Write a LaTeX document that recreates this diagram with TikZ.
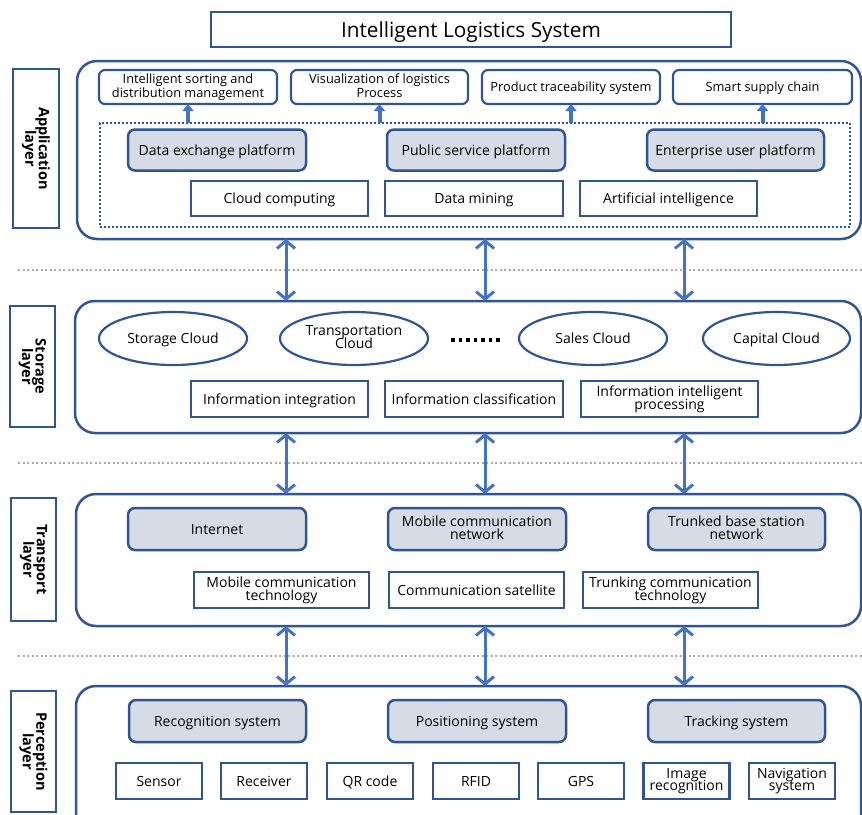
\documentclass[tikz,border=0pt]{standalone}
\usepackage{fontspec}
\setmainfont{Open Sans}
\usetikzlibrary{arrows.meta,shapes.geometric}
\definecolor{bord}{HTML}{2F5597}
\definecolor{arrowc}{HTML}{4472C4}
\definecolor{grayfill}{HTML}{D6DCE5}
\definecolor{sepc}{HTML}{ABABAB}
\newcommand{\fs}[2]{\fontsize{#1}{#2}\selectfont\lineskiplimit=-30pt\relax}
\newcommand{\mystrut}{\rule[-0.25em]{0pt}{1.25em}}
\begin{document}
\begin{tikzpicture}[x=1pt,y=-1pt,
  every node/.style={inner sep=0pt, outer sep=0pt, align=center},
  txt/.style={execute at begin node=\mystrut, execute at end node=\mystrut},
  titlebox/.style={txt, draw=bord, line width=2.2, minimum width=520, minimum height=35, font=\fs{20.8}{22}},
  layerbox/.style={draw=bord, line width=2.5, rotate=-90, font=\bfseries\fs{14.5}{13.5}},
  cont/.style={draw=bord, line width=2.5, rounded corners=20, anchor=north west},
  topbox/.style={txt, draw=bord, line width=2.2, rounded corners=6, minimum height=34, font=\fs{12.8}{13.8}},
  gbox/.style={txt, draw=bord, fill=grayfill, line width=2.5, rounded corners=7, minimum width=178, minimum height=41, font=\fs{14}{13}},
  tbox/.style={txt, draw=bord, line width=2.2, minimum width=177, minimum height=35, font=\fs{14}{13}},
  sbox/.style={txt, draw=bord, line width=2.2, minimum width=86, minimum height=36, font=\fs{14}{13}},
  ell/.style={txt, ellipse, draw=bord, line width=2.2, minimum width=148, minimum height=53, font=\fs{14}{13}},
  dotbox/.style={draw=bord, line width=2, dash pattern=on 2pt off 2pt},
  sepline/.style={draw=sepc, line width=2, dash pattern=on 2pt off 2.5pt},
  biarrow/.style={draw=arrowc, line width=3, {Straight Barb[length=7.5pt,width=18pt]}-{Straight Barb[length=7.5pt,width=18pt]}},
  uparrow/.style={draw=arrowc, line width=4, -{Triangle[length=7pt,width=11pt]}},
  dotsline/.style={draw=black, line width=3.5, dash pattern=on 3.5pt off 4pt}
]
\useasboundingbox (0,0) rectangle (862,814);
\clip (0,0) rectangle (862,814);

% title
\node[titlebox] (title) at (471,29.5) {Intelligent Logistics System};

% layer labels
\node[layerbox, minimum width=159, minimum height=46] (Lapp) at (36,148.5) {Application\\layer};
\node[layerbox, minimum width=121, minimum height=45] (Lsto) at (32.5,366.5) {Storage\\layer};
\node[layerbox, minimum width=123, minimum height=45] (Ltra) at (33.5,559.5) {Transport\\layer};
\node[layerbox, minimum width=121, minimum height=45] (Lper) at (33.5,751.5) {Perception\\layer};

% containers
\node[cont, minimum width=784, minimum height=178] (Capp) at (77,61) {};
\node[cont, minimum width=786, minimum height=132] (Csto) at (75,301) {};
\node[cont, minimum width=785, minimum height=132] (Ctra) at (76,494) {};
\node[cont, minimum width=785, minimum height=160] (Cper) at (76,686) {};

% separators
\coordinate (s1a) at (18,270); \coordinate (s1b) at (862,270);
\coordinate (s2a) at (18,463); \coordinate (s2b) at (862,463);
\coordinate (s3a) at (18,656); \coordinate (s3b) at (862,656);
\draw[sepline] (s1a) -- (s1b);
\draw[sepline] (s2a) -- (s2b);
\draw[sepline] (s3a) -- (s3b);

% application layer
\node[topbox, minimum width=178] (sort) at (188,87) {Intelligent sorting and\\distribution management};
\node[topbox, minimum width=177] (vis) at (379.5,87) {Visualization of logistics\\Process};
\node[topbox, minimum width=178] (prod) at (571,87) {Product traceability system};
\node[topbox, minimum width=179] (smart) at (762.5,87) {Smart supply chain};

\node[dotbox, minimum width=750, minimum height=104] (dbox) at (475,175) {};

\node[gbox] (dex) at (217,150) {Data exchange platform};
\node[gbox] (pub) at (476,150) {Public service platform};
\node[gbox, minimum width=177] (ent) at (735.5,150) {Enterprise user platform};

\node[tbox] (cloud) at (279.5,198.5) {Cloud computing};
\node[tbox, minimum width=178] (mining) at (474,198.5) {Data mining};
\node[tbox] (ai) at (668.5,198.5) {Artificial intelligence};

\foreach \b in {sort,vis,prod,smart}{
  \draw[uparrow] (dbox.north -| \b.south) -- (\b.south);
}

% storage layer
\node[ell] (scloud) at (173,338.5) {Storage Cloud};
\node[ell] (tcloud) at (354,338.5) {Transportation\\Cloud};
\node[ell] (salcloud) at (593,338.5) {Sales Cloud};
\node[ell, minimum width=147] (capcloud) at (776.5,338.5) {Capital Cloud};
\coordinate (dl) at (451,340); \coordinate (dr) at (503,340);
\draw[dotsline] (dl) -- (dr);

\node[tbox, minimum height=36] (integ) at (279.5,399) {Information integration};
\node[tbox, minimum height=36, minimum width=178] (classi) at (474,399) {Information classification};
\node[tbox, minimum height=36] (intel) at (669.5,399) {Information intelligent\\processing};

% transport layer
\node[gbox, minimum height=42] (inet) at (217,529) {Internet};
\node[gbox, minimum height=42] (mcn) at (477,529) {Mobile communication\\network};
\node[gbox, minimum height=42, minimum width=177] (tbs) at (736.5,529) {Trunked base station\\network};

\node[tbox, minimum width=175, minimum height=36] (mct) at (281.5,590) {Mobile communication\\technology};
\node[tbox, minimum width=175, minimum height=36] (sat) at (476.5,590) {Communication satellite};
\node[tbox, minimum width=175, minimum height=36] (tct) at (670.5,590) {Trunking communication\\technology};

% perception layer
\node[gbox, minimum height=42, minimum width=177] (rec) at (217.5,721) {Recognition system};
\node[gbox, minimum height=42] (pos) at (477,721) {Positioning system};
\node[gbox, minimum height=42, minimum width=177] (trk) at (736.5,721) {Tracking system};

\node[sbox] (sensor) at (159,781) {Sensor};
\node[sbox] (recv) at (264,781) {Receiver};
\node[sbox] (qr) at (370,781) {QR code};
\node[sbox] (rfid) at (476,781) {RFID};
\node[sbox] (gps) at (581,781) {GPS};
\node[sbox, font=\fs{14}{12.5}] (img) at (686.5,781) {Image\\recognition};
\node[sbox, font=\fs{14}{12.5}] (nav) at (792,781) {Navigation\\system};

% inter-layer arrows
\coordinate (x1) at (286,0);
\coordinate (x2) at (485,0);
\coordinate (x3) at (684,0);
\foreach \x in {x1,x2,x3}{
  \draw[biarrow] (Capp.south -| \x) -- (Csto.north -| \x);
  \draw[biarrow] (Csto.south -| \x) -- (Ctra.north -| \x);
  \draw[biarrow] (Ctra.south -| \x) -- (Cper.north -| \x);
}
\end{tikzpicture}
\end{document}
